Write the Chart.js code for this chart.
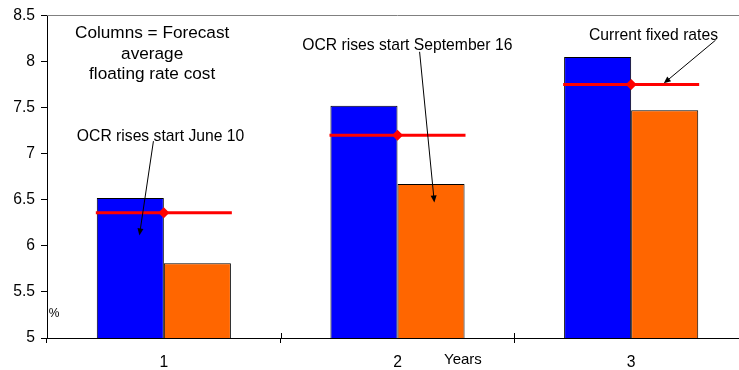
<!DOCTYPE html>
<html>
<head>
<meta charset="utf-8">
<script src="https://cdn.jsdelivr.net/npm/chart.js@4/dist/chart.umd.min.js"></script>
<style>
  html, body { margin: 0; padding: 0; overflow: hidden; background: #fff; }
  #wrap { position: relative; width: 748px; height: 370px; }
</style>
</head>
<body>
<div id="wrap"><canvas id="c"></canvas></div>
<script>
// Horizon (years) and rates, %
const years = ['1', '2', '3'];
const ocrJune10 = [6.52, 7.52, 8.05];       // forecast average floating cost, OCR rises from June 10
const ocrSeptember16 = [5.81, 6.67, 7.47];  // forecast average floating cost, OCR rises from September 16
const fixedRates = [6.36, 7.2, 7.75];       // current fixed rates
const yMin = 5, yMax = 8.5, yStep = 0.5;

const FONT = '"Liberation Sans", Arial, sans-serif';

// Text notes and arrows, placed in axis units (x = category index, y = %)
const notes = [
  { lines: ['Columns = Forecast', 'average', 'floating rate cost'], x: -0.05, y: 8.256, size: 17.2, lineGap: 20.7 },
  { lines: ['OCR rises start June 10'], x: -0.014, y: 7.136, size: 15.7 },
  { lines: ['OCR rises start September 16'], x: 1.042, y: 8.123, size: 15.7 },
  { lines: ['Current fixed rates'], x: 2.0955, y: 8.231, size: 15.7 },
  { lines: ['Years'], x: 1.28, y: 4.72, size: 15 },
  { lines: ['%'], x: -0.47, y: 5.224, size: 12 }
];
const arrows = [
  { from: [-0.0445, 7.136], to: [-0.1045, 6.113] },
  { from: [1.0946, 8.105], to: [1.1576, 6.471] },
  { from: [2.361, 8.231], to: [2.1396, 7.763] }
];

const notesPlugin = {
  id: 'notes',
  afterDatasetsDraw(chart) {
    const { ctx, chartArea, scales: { x, y } } = chart;
    ctx.save();
    // frame line along the top of the plot
    ctx.strokeStyle = '#808080';
    ctx.lineWidth = 1;
    ctx.beginPath();
    ctx.moveTo(chartArea.left, Math.round(chartArea.top) + 0.5);
    ctx.lineTo(chartArea.right, Math.round(chartArea.top) + 0.5);
    ctx.stroke();

    // category dividers cross the x axis
    ctx.strokeStyle = '#000';
    ctx.beginPath();
    for (let i = 1; i < years.length; i++) {
      const bx = Math.round(x.getPixelForValue(i - 0.5)) + 0.5;
      ctx.moveTo(bx, chartArea.bottom - 5);
      ctx.lineTo(bx, chartArea.bottom);
    }
    ctx.stroke();

    ctx.fillStyle = '#000';
    ctx.textAlign = 'center';
    ctx.textBaseline = 'alphabetic';
    notes.forEach(n => {
      ctx.font = n.size + 'px ' + FONT;
      const px = x.getPixelForValue(n.x);
      const py = y.getPixelForValue(n.y);
      n.lines.forEach((t, i) => ctx.fillText(t, px, py + i * (n.lineGap || 0)));
    });

    ctx.lineWidth = 1;
    arrows.forEach(a => {
      const x1 = x.getPixelForValue(a.from[0]), y1 = y.getPixelForValue(a.from[1]);
      const x2 = x.getPixelForValue(a.to[0]), y2 = y.getPixelForValue(a.to[1]);
      const ang = Math.atan2(y2 - y1, x2 - x1);
      const len = 7, half = 3;
      ctx.beginPath();
      ctx.moveTo(x1, y1);
      ctx.lineTo(x2 - Math.cos(ang) * len * 0.6, y2 - Math.sin(ang) * len * 0.6);
      ctx.stroke();
      ctx.beginPath();
      ctx.moveTo(x2, y2);
      ctx.lineTo(x2 - Math.cos(ang) * len - Math.sin(ang) * half, y2 - Math.sin(ang) * len + Math.cos(ang) * half);
      ctx.lineTo(x2 - Math.cos(ang) * len + Math.sin(ang) * half, y2 - Math.sin(ang) * len - Math.cos(ang) * half);
      ctx.closePath();
      ctx.fill();
    });
    ctx.restore();
  }
};

new Chart(document.getElementById('c'), {
  type: 'bar',
  data: {
    labels: years,
    datasets: [
      {
        label: 'OCR rises start June 10',
        data: ocrJune10,
        backgroundColor: '#0000FF',
        borderColor: '#000',
        borderWidth: 1,
        barPercentage: 1,
        categoryPercentage: 0.574,
        order: 2
      },
      {
        label: 'OCR rises start September 16',
        data: ocrSeptember16,
        backgroundColor: '#FF6600',
        borderColor: '#000',
        borderWidth: 1,
        barPercentage: 1,
        categoryPercentage: 0.574,
        order: 2
      },
      {
        type: 'line',
        label: 'Current fixed rates',
        data: fixedRates,
        showLine: false,
        pointStyle: 'line',
        pointRadius: 68,
        pointHoverRadius: 68,
        pointBorderColor: '#FF0000',
        pointBorderWidth: 3,
        pointHoverBorderWidth: 3,
        clip: false,
        order: 1
      },
      {
        type: 'line',
        label: 'Current fixed rates marker',
        data: fixedRates,
        showLine: false,
        pointStyle: 'rectRot',
        pointRadius: 5.5,
        pointHoverRadius: 5.5,
        pointBackgroundColor: '#FF0000',
        pointBorderColor: '#FF0000',
        pointBorderWidth: 0,
        clip: false,
        order: 0
      }
    ]
  },
  options: {
    responsive: true,
    maintainAspectRatio: false,
    animation: false,
    events: [],
    layout: { autoPadding: false, padding: { top: 13, right: 0, left: 0, bottom: 0 } },
    plugins: { legend: { display: false }, tooltip: { enabled: false } },
    scales: {
      x: {
        offset: true,
        grid: { offset: true, drawOnChartArea: false, drawTicks: true, tickLength: 5, color: '#000' },
        border: { display: true, color: '#000', width: 1 },
        ticks: { color: '#000', font: { family: FONT, size: 15.7 }, padding: 10, maxRotation: 0 },
        afterFit(s) { s.height = 32; }
      },
      y: {
        min: yMin,
        max: yMax,
        ticks: {
          stepSize: yStep,
          color: '#000',
          font: { family: FONT, size: 15.7 },
          padding: 6,
          callback: v => String(v)
        },
        grid: { drawOnChartArea: false, drawTicks: true, tickLength: 6, color: '#000' },
        border: { display: true, color: '#000', width: 1 },
        afterFit(s) { s.width = 47; }
      }
    }
  },
  plugins: [notesPlugin]
});
</script>
</body>
</html>
